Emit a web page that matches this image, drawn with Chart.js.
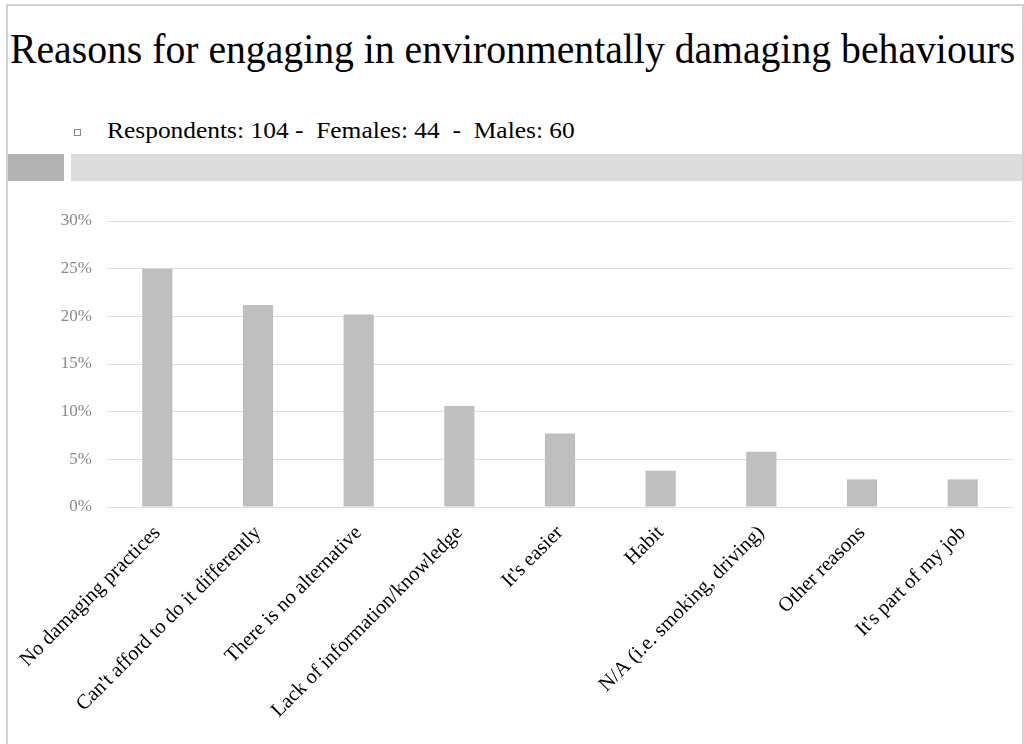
<!DOCTYPE html>
<html>
<head>
<meta charset="utf-8">
<script src="https://cdn.jsdelivr.net/npm/chart.js@4/dist/chart.umd.min.js"></script>
<style>
  html, body { margin: 0; padding: 0; background: #fff; }
  body { width: 1024px; height: 744px; position: relative; overflow: hidden; font-family: "Liberation Serif", "Times New Roman", serif; }
  .frame { position: absolute; left: 6px; top: 4px; width: 1014px; height: 800px;
           border-left: 2px solid #d2d2d2; border-top: 2px solid #d2d2d2; border-right: 2px solid #d2d2d2; }
  .title { position: absolute; left: 10px; top: 28px; font-size: 42px; line-height: 42px; color: #000; white-space: nowrap;
           transform: scaleX(0.945); transform-origin: 0 0; }
  .subtitle { position: absolute; left: 107px; top: 118px; font-size: 24px; line-height: 24px; color: #000; white-space: pre;
              transform: scaleX(1.06); transform-origin: 0 0; }
  .bullet { position: absolute; left: 74px; top: 129px; width: 5px; height: 5px; border: 1px solid #8a8a8a; }
  .band-dark { position: absolute; left: 8px; top: 154px; width: 56px; height: 27px; background: #b3b3b3; }
  .band-light { position: absolute; left: 71px; top: 154px; width: 951px; height: 27px; background: #dcdcdc; }
  #reasonsChart { position: absolute; left: 0; top: 0; }
</style>
</head>
<body>
<div class="frame"></div>
<div class="title">Reasons for engaging in environmentally damaging behaviours</div>
<div class="bullet"></div>
<div class="subtitle">Respondents: 104 -  Females: 44  -  Males: 60</div>
<div class="band-dark"></div>
<div class="band-light"></div>
<canvas id="reasonsChart" width="1024" height="744"></canvas>

<script>
// answer categories, in the order they were asked
const reasons = [
  "No damaging practices",
  "Can't afford to do it differently",
  "There is no alternative",
  "Lack of information/knowledge",
  "It's easier",
  "Habit",
  "N/A (i.e. smoking, driving)",
  "Other reasons",
  "It's part of my job"
];

// share of respondents (%)
const shares = [25.0, 21.2, 20.2, 10.6, 7.7, 3.8, 5.8, 2.9, 2.9];

// y axis
const yMin = 0;
const yMax = 30;
const yStep = 5;

new Chart(document.getElementById("reasonsChart"), {
  type: "bar",
  data: {
    labels: reasons,
    datasets: [{
      data: shares,
      backgroundColor: "#bfbfbf",
      barPercentage: 0.3,
      categoryPercentage: 1
    }]
  },
  options: {
    responsive: false,
    animation: false,
    devicePixelRatio: 1,
    layout: { padding: { top: 221, right: 11, left: 0, bottom: 0 } },
    plugins: {
      legend: { display: false },
      tooltip: { enabled: false }
    },
    scales: {
      x: {
        grid: { display: false },
        border: { display: false },
        ticks: {
          color: "#000",
          font: { family: "Liberation Serif", size: 20.5 },
          maxRotation: 45,
          minRotation: 45,
          autoSkip: false,
          padding: 6
        },
        afterFit: s => { s.height = 237; }
      },
      y: {
        min: yMin,
        max: yMax,
        grid: { color: "#e0e0e0", drawTicks: false },
        border: { display: false },
        ticks: {
          stepSize: yStep,
          color: "#8a8a8a",
          font: { family: "Liberation Serif", size: 17 },
          padding: 15,
          callback: v => v + "%"
        },
        afterFit: s => { s.width = 107; }
      }
    }
  }
});
</script>
</body>
</html>
